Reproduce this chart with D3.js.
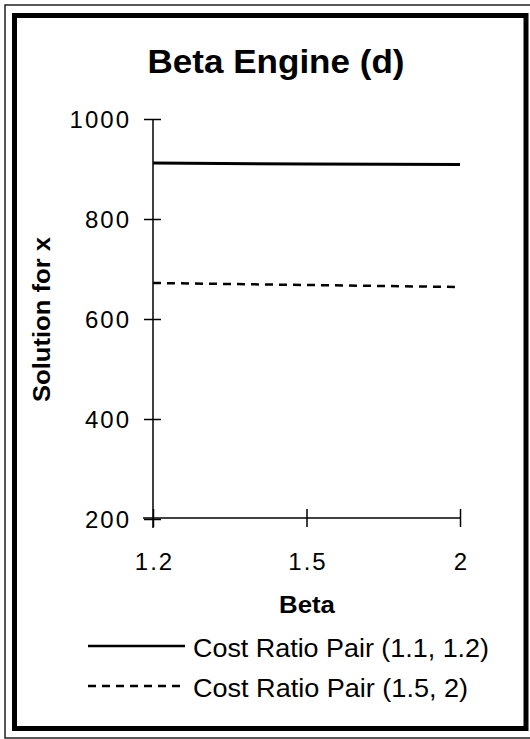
<!DOCTYPE html>
<html><head><meta charset="utf-8">
<script src="https://cdn.jsdelivr.net/npm/d3@7"></script>
<style>html,body{margin:0;padding:0;background:#fff}svg{display:block}</style>
</head><body>
<svg id="c" width="530" height="739"></svg>
<script>
const categories = ["1.2", "1.5", "2"];
const yTicks = [200, 400, 600, 800, 1000];
const seriesNames = ["Cost Ratio Pair (1.1, 1.2)", "Cost Ratio Pair (1.5, 2)"];
const solidValues = [912, 910, 909];
const dashedValues = [672, 668, 664];
const titleText = "Beta Engine (d)";
const xTitle = "Beta";
const yTitle = "Solution for x";

const FONT = "'Liberation Sans', Arial, Helvetica, sans-serif";
const svg = d3.select("#c");

// frame
svg.append("rect").attr("x",5).attr("y",5).attr("width",540).attr("height",733)
  .attr("fill","none").attr("stroke","#222").attr("stroke-width",1.5);
svg.append("rect").attr("x",14.5).attr("y",15.5).attr("width",511.5).attr("height",713)
  .attr("fill","none").attr("stroke","#000").attr("stroke-width",5);

const x = d3.scalePoint().domain(categories).range([153, 460]).padding(0);
const y = d3.scaleLinear().domain([200, 1000]).range([519, 119]);

function spaced(sel, extra){
  sel.each(function(){
    const t = d3.select(this);
    const n = t.text().length;
    if (n > 1) {
      const w = this.getComputedTextLength();
      t.attr("textLength", w + extra*(n-1)).attr("lengthAdjust","spacing");
    }
  });
}

// title
svg.append("text").attr("x",276).attr("y",73).attr("text-anchor","middle")
  .attr("font-family",FONT).attr("font-weight","bold").attr("font-size",33)
  .attr("textLength",257).attr("lengthAdjust","spacingAndGlyphs").text(titleText);

// y axis
const gy = svg.append("g").attr("transform","translate(153,0)")
  .call(d3.axisLeft(y).tickValues(yTicks).tickSize(0).tickPadding(24).tickFormat(d3.format("d")));
gy.select(".domain").remove();
gy.selectAll("text").attr("font-family",FONT).attr("font-size",24).attr("fill","#000").attr("dy","0.36em");
gy.selectAll("text").call(spaced, 2);
gy.selectAll(".tick").append("line").attr("x1",-9).attr("x2",8).attr("stroke","#000").attr("stroke-width",1.5);
svg.append("line").attr("x1",153).attr("x2",153).attr("y1",y(1000)).attr("y2",528)
  .attr("stroke","#000").attr("stroke-width",1.5);

// x axis
const gx = svg.append("g").attr("transform","translate(0,518)")
  .call(d3.axisBottom(x).tickSize(0).tickPadding(43));
gx.select(".domain").remove();
gx.selectAll("text").attr("font-family",FONT).attr("font-size",24).attr("fill","#000").attr("dy","0.36em");
gx.selectAll("text").call(spaced, 2);
gx.selectAll(".tick").append("line").attr("y1",-9).attr("y2",9).attr("stroke","#000").attr("stroke-width",1.5);
svg.append("line").attr("x1",143).attr("x2",460).attr("y1",518).attr("y2",518)
  .attr("stroke","#000").attr("stroke-width",1.5);

// axis titles
svg.append("text").attr("x",307).attr("y",613).attr("text-anchor","middle")
  .attr("font-family",FONT).attr("font-weight","bold").attr("font-size",23)
  .attr("textLength",56).attr("lengthAdjust","spacingAndGlyphs").text(xTitle);
svg.append("text").attr("transform","translate(50,319.5) rotate(-90)").attr("text-anchor","middle")
  .attr("font-family",FONT).attr("font-weight","bold").attr("font-size",24)
  .attr("textLength",165).attr("lengthAdjust","spacingAndGlyphs").text(yTitle);

// lines
const line = d3.line().x((d,i)=>x(categories[i])).y(d=>y(d));
svg.append("path").datum(solidValues).attr("d",line).attr("fill","none")
  .attr("stroke","#000").attr("stroke-width",3);
svg.append("path").datum(dashedValues).attr("d",line).attr("fill","none")
  .attr("stroke","#000").attr("stroke-width",2.5).attr("stroke-dasharray","8,6");

// legend
const legY = [646, 686];
const legDash = [null, "8,6"];
const legLen = [296, 275];
seriesNames.forEach((name,i)=>{
  svg.append("line").attr("x1",88).attr("x2",185).attr("y1",legY[i]).attr("y2",legY[i])
    .attr("stroke","#000").attr("stroke-width",2.5)
    .attr("stroke-dasharray", legDash[i]);
  svg.append("text").attr("x",193).attr("y",legY[i]+11)
    .attr("font-family",FONT).attr("font-size",25)
    .attr("textLength",legLen[i]).attr("lengthAdjust","spacingAndGlyphs").text(name);
});
</script>
</body></html>
